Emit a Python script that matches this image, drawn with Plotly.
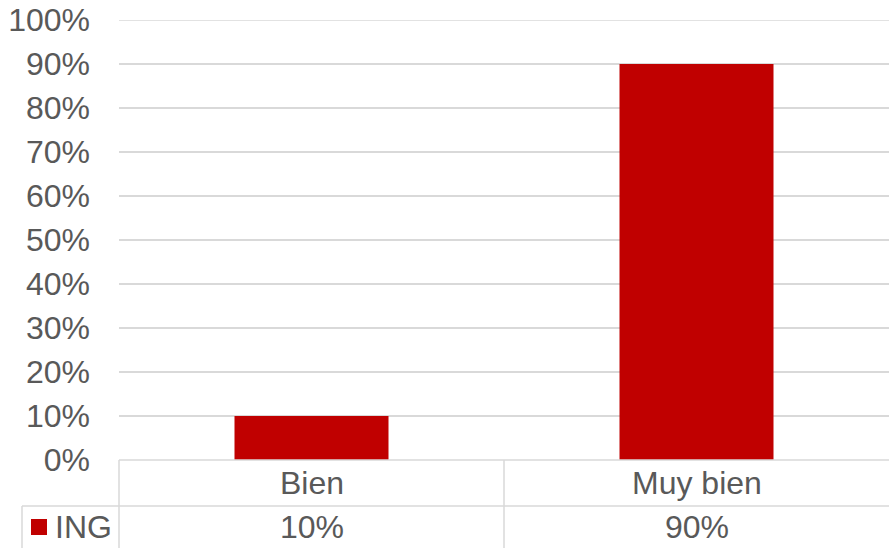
import plotly.graph_objects as go

# chart data
categories = ["Bien", "Muy bien"]
values = [10, 90]
series_name = "ING"
y_ticks = [0, 10, 20, 30, 40, 50, 60, 70, 80, 90, 100]
y_tick_text = [f"{v}%" for v in y_ticks]

BAR_RED = "#C00000"
TEXT_GREY = "#595959"
LINE_GREY = "#D9D9D9"
FONT = "Liberation Sans, Arial, sans-serif"
FSIZE = 32

W, H = 889, 548
L, R, T, B = 119, 0, 20, 88
plot_w = W - L - R
plot_h = H - T - B


def px_x(x):
    # pixel x -> paper x
    return (x - L) / plot_w


def px_y(y):
    # pixel y -> paper y
    return (H - B - y) / plot_h


fig = go.Figure()
fig.add_trace(go.Bar(x=categories, y=values, name=series_name,
                     marker=dict(color=BAR_RED, line=dict(width=0)),
                     width=0.4, showlegend=False))

#---------------- data table under the axis ----------------#
line = dict(color=LINE_GREY, width=1.5)
shapes = [
    # top gridline (plotly skips the one on the plot edge)
    dict(type="line", xref="paper", yref="y", x0=0, x1=1, y0=y_ticks[-1], y1=y_ticks[-1],
         line=line, layer="below"),
    dict(type="line", xref="paper", yref="paper", x0=0, x1=1, y0=0, y1=0, line=line),
    dict(type="line", xref="paper", yref="paper", x0=px_x(22), x1=1,
         y0=px_y(506), y1=px_y(506), line=line),
    dict(type="line", xref="paper", yref="paper", x0=0, x1=0, y0=0, y1=px_y(560), line=line),
    dict(type="line", xref="x", yref="paper", x0=0.5, x1=0.5, y0=0, y1=px_y(560), line=line),
    dict(type="line", xref="paper", yref="paper", x0=px_x(22), x1=px_x(22),
         y0=px_y(506), y1=px_y(560), line=line),
    # legend key
    dict(type="rect", xref="paper", yref="paper", x0=px_x(31), x1=px_x(47),
         y0=px_y(535), y1=px_y(519), fillcolor=BAR_RED, line=dict(width=0)),
]

annotations = []
for cat, val in zip(categories, values):
    annotations.append(dict(x=cat, y=px_y(483), xref="x", yref="paper", text=cat,
                            showarrow=False, xanchor="center", yanchor="middle",
                            font=dict(family=FONT, size=FSIZE, color=TEXT_GREY)))
    annotations.append(dict(x=cat, y=px_y(527), xref="x", yref="paper", text=f"{val}%",
                            showarrow=False, xanchor="center", yanchor="middle",
                            font=dict(family=FONT, size=FSIZE, color=TEXT_GREY)))
annotations.append(dict(x=px_x(53), y=px_y(527), xref="paper", yref="paper",
                        text=series_name, showarrow=False, xanchor="left", yanchor="middle",
                        font=dict(family=FONT, size=FSIZE, color=TEXT_GREY)))

fig.update_layout(
    width=W, height=H,
    margin=dict(l=L, r=R, t=T, b=B, pad=0, autoexpand=False),
    paper_bgcolor="white", plot_bgcolor="white",
    font=dict(family=FONT, size=FSIZE, color=TEXT_GREY),
    shapes=shapes, annotations=annotations,
    xaxis=dict(range=[-0.5, 1.5], showticklabels=False, showgrid=False, automargin=False,
               zeroline=False, showline=False, fixedrange=True),
    yaxis=dict(range=[0, 100], tickmode="array", tickvals=y_ticks, ticktext=y_tick_text,
               showgrid=True, gridcolor=LINE_GREY, gridwidth=1.5, automargin=False,
               zeroline=False, showline=False, ticks="", ticklabelstandoff=28,
               tickfont=dict(family=FONT, size=FSIZE, color=TEXT_GREY)),
)

# drop the default page margin so the figure sits at the window's corner
fig.write_html("out.html", config={"displayModeBar": False},
               post_script="document.body.style.margin='0';document.body.style.overflow='hidden';")
